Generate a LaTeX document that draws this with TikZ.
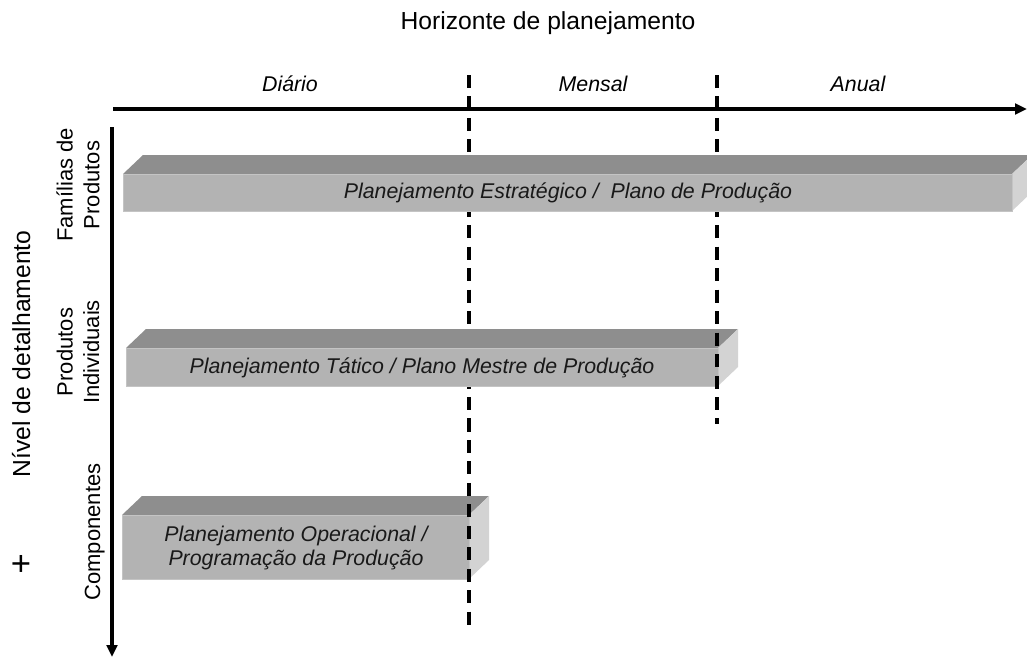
\documentclass[tikz,border=0pt]{standalone}
\usepackage{fontspec}
\setmainfont{Liberation Sans}
\usetikzlibrary{arrows.meta}
\definecolor{topc}{HTML}{8E8E8E}
\definecolor{frontc}{HTML}{B3B3B3}
\definecolor{sidec}{HTML}{D3D3D3}
\definecolor{edgec}{HTML}{C4C4C4}
\newcommand\prismbar[4]{%
  \fill[topc] (#1,#3) -- (#1+20,#3-19) -- (#2+20,#3-19) -- (#2,#3) -- cycle;
  \fill[sidec] (#2,#3) -- (#2+20,#3-19) -- (#2+20,#4-19) -- (#2,#4) -- cycle;
  \fill[frontc] (#1,#3) rectangle (#2,#4);
  \draw[edgec, line width=0.75pt] (#1,#3) rectangle (#2,#4);
}
\tikzset{
  axisline/.style={line width=3.3pt, -{Triangle[length=9pt,width=8pt]}},
  divline/.style={line width=3.2pt, dash pattern=on 9.8pt off 6.3pt},
  title/.style={font=\fontsize{18.5}{22}\selectfont, inner sep=0pt},
  sidelbl/.style={font=\fontsize{16.5}{20}\selectfont, inner sep=0pt, align=center, rotate=90},
  period/.style={font=\fontsize{16}{19}\selectfont\itshape, inner sep=0pt},
  bartext/.style={font=\fontsize{16}{18}\selectfont\itshape, inner sep=0pt, align=center, text=black!90},
}
\begin{document}
\begin{tikzpicture}[x=0.75pt, y=-0.75pt]
\useasboundingbox (0,0) rectangle (1027,657);

% axes
\coordinate (hx0) at (113,109);
\coordinate (hx1) at (1027,109);
\coordinate (vy0) at (112,127);
\coordinate (vy1) at (112,657);
\draw[axisline] (hx0) -- (hx1);
\draw[axisline] (vy0) -- (vy1);

% divider coordinates
\coordinate (d1a) at (469,75);
\coordinate (d1b) at (469,625);
\coordinate (d2a) at (717,75);
\coordinate (d2b) at (717,424);

% bar 3 (bottom-most layer)
\prismbar{122}{469}{515}{579}
\draw[divline] (d1a) -- (d1b);
% bar 2
\prismbar{126}{718}{348}{386}
\draw[divline] (d2a) -- (d2b);
% bar 1
\prismbar{123}{1012}{174}{211}

% bar texts
\node[bartext, anchor=base] (b1) at (568,198) {Planejamento Estratégico /\ \ Plano de Produção};
\node[bartext, anchor=base] (b2) at (422,373) {Planejamento Tático / Plano Mestre de Produção};
\node[bartext] (b3) at (296,548) {Planejamento Operacional /\\Programação da Produção};

% titles
\node[title, anchor=base] (ht) at (548,29) {Horizonte de planejamento};
\node[period, anchor=base] (p1) at (290,91) {Diário};
\node[period, anchor=base] (p2) at (593,91) {Mensal};
\node[period, anchor=base] (p3) at (858,91) {Anual};

\node[title, rotate=90, anchor=base] (vt) at (30,354) {Nível de detalhamento};
\node[title, font=\fontsize{26}{30}\selectfont] (plus) at (21,565) {+};

\node[sidelbl] (s1) at (78,185) {Famílias de\\Produtos};
\node[sidelbl] (s2) at (78,352) {Produtos\\Individuais};
\node[sidelbl, anchor=base] (s3) at (100,532) {Componentes};
\end{tikzpicture}
\end{document}
